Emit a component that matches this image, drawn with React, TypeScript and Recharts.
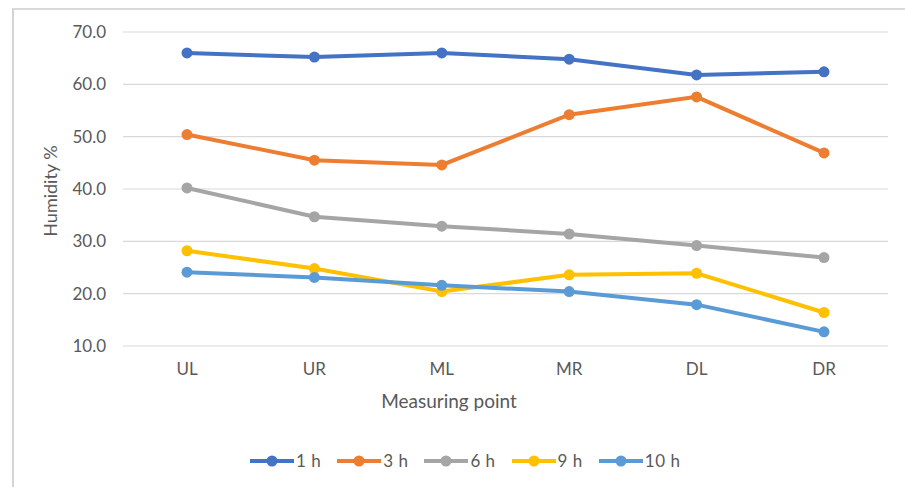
import React from 'react';
import { LineChart, Line, XAxis, YAxis, CartesianGrid, Label } from 'recharts';

const points = ['UL', 'UR', 'ML', 'MR', 'DL', 'DR'];
const h1 = [66.0, 65.2, 66.0, 64.8, 61.8, 62.4];
const h3 = [50.4, 45.5, 44.6, 54.2, 57.6, 46.9];
const h6 = [40.2, 34.7, 32.9, 31.4, 29.2, 26.9];
const h9 = [28.2, 24.8, 20.4, 23.6, 23.9, 16.4];
const h10 = [24.1, 23.1, 21.6, 20.4, 17.9, 12.7];
const yTicks = [10, 20, 30, 40, 50, 60, 70];

const seriesList = [
  { key: 'h1', name: '1 h', values: h1, color: '#4472C4' },
  { key: 'h3', name: '3 h', values: h3, color: '#ED7D31' },
  { key: 'h6', name: '6 h', values: h6, color: '#A5A5A5' },
  { key: 'h9', name: '9 h', values: h9, color: '#FFC000' },
  { key: 'h10', name: '10 h', values: h10, color: '#5B9BD5' },
];

const data = points.map((p, i) => {
  const row: Record<string, string | number> = { point: p };
  seriesList.forEach((s) => {
    row[s.key] = s.values[i];
  });
  return row;
});

const FONT = 'Lato, "Open Sans", sans-serif';
const TEXT = '#595959';

const SeriesLegend = () => (
  <div
    style={{
      position: 'absolute',
      left: 250,
      top: 452,
      display: 'flex',
      alignItems: 'center',
      fontFamily: FONT,
      fontSize: 17,
      color: TEXT,
      lineHeight: '18px',
    }}
  >
    {seriesList.map((s) => (
      <div key={s.key} style={{ display: 'flex', alignItems: 'center', marginRight: 16 }}>
        <svg width={44} height={14} style={{ display: 'block' }}>
          <line x1={0} y1={7} x2={44} y2={7} stroke={s.color} strokeWidth={4} />
          <circle cx={22} cy={7} r={5.5} fill={s.color} />
        </svg>
        <span style={{ marginLeft: 2, letterSpacing: 0.5 }}>{s.name}</span>
      </div>
    ))}
  </div>
);

export default function App() {
  return (
    <div style={{ position: 'absolute', left: 0, top: 0, width: 905, height: 487, background: '#fff', overflow: 'hidden' }}>
      <div
        style={{
          position: 'absolute',
          left: 12,
          top: 8,
          width: 905,
          height: 487,
          borderTop: '2px solid #d9d9d9',
          borderLeft: '2px solid #d4d4d4',
        }}
      />
      <LineChart
        width={905}
        height={487}
        data={data}
        margin={{ top: 32, right: 17, bottom: 111, left: 0 }}
        style={{ position: 'absolute', left: 0, top: 0 }}
      >
        <CartesianGrid vertical={false} stroke="#d9d9d9" strokeWidth={1.2} />
        <XAxis
          dataKey="point"
          height={30}
          padding={{ left: 64, right: 64 }}
          axisLine={false}
          tickLine={false}
          tickSize={0}
          tickMargin={17}
          tick={{ fill: TEXT, fontSize: 17, fontFamily: FONT }}
          interval={0}
        >
          <Label
            content={() => (
              <text x={449} y={400} textAnchor="middle" dominantBaseline="central" fill={TEXT} fontSize={19} fontFamily={FONT}>
                Measuring point
              </text>
            )}
          />
        </XAxis>
        <YAxis
          width={123}
          domain={[10, 70]}
          ticks={yTicks}
          axisLine={false}
          tickLine={false}
          tickSize={0}
          tickMargin={17}
          tickFormatter={(v: number) => v.toFixed(1)}
          tick={{ fill: TEXT, fontSize: 17, fontFamily: FONT }}
        >
          <Label
            content={() => (
              <text
                x={50}
                y={191}
                textAnchor="middle"
                dominantBaseline="central"
                fill={TEXT}
                fontSize={18}
                fontFamily={FONT}
                transform="rotate(-90 50 191)"
              >
                Humidity %
              </text>
            )}
          />
        </YAxis>
        {seriesList.map((s) => (
          <Line
            key={s.key}
            type="linear"
            dataKey={s.key}
            name={s.name}
            stroke={s.color}
            strokeWidth={4}
            dot={{ r: 5.5, fill: s.color, stroke: 'none' }}
            activeDot={false}
            isAnimationActive={false}
          />
        ))}
      </LineChart>
      <SeriesLegend />
    </div>
  );
}
